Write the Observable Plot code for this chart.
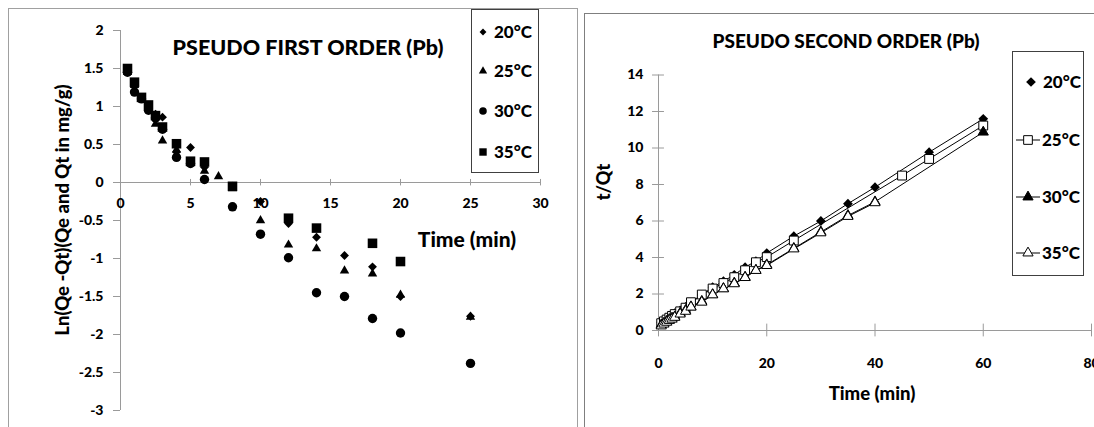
<!DOCTYPE html>
<html><head><meta charset="utf-8">
<script src="https://cdn.jsdelivr.net/npm/d3@7"></script>
<script src="https://cdn.jsdelivr.net/npm/@observablehq/plot@0.6"></script>
<style>
body{margin:0;background:#fff;font-family:Lato,"Open Sans",sans-serif;}
#wrap{position:relative;width:1094px;height:427px;overflow:hidden;background:#fff;}
.panel{position:absolute;box-sizing:border-box;}
.lbl{position:absolute;font-weight:900;color:#000;white-space:nowrap;transform:translate(-50%,-50%);line-height:1;}
.plotbox{position:absolute;top:0;}
.legend{position:absolute;box-sizing:border-box;border:1px solid #404040;background:#fff;}
</style></head><body><div id="wrap"></div>
<script>
// ---------- DATA: Pseudo first order (Pb) ----------
const pfoSeries = ["20°C","25°C","30°C","35°C"];
const pfoTicksX = [0,5,10,15,20,25,30];
const pfoTicksY = [-3,-2.5,-2,-1.5,-1,-0.5,0,0.5,1,1.5,2];
const pfoTime20 = [0.5,1,1.5,2,2.5,3,4,5,6,8,10,12,14,16,18,20,25];
const pfoLn20   = [1.48,1.3,1.12,1.0,0.9,0.86,0.4,0.46,0.2,-0.05,-0.25,-0.54,-0.72,-0.96,-1.11,-1.5,-1.76];
const pfoTime25 = [0.5,1,1.5,2,2.5,3,4,5,6,7,8,10,12,14,16,18,20,25];
const pfoLn25   = [1.45,1.28,1.1,0.98,0.77,0.55,0.43,0.25,0.15,0.08,-0.08,-0.5,-0.82,-0.87,-1.16,-1.2,-1.48,-1.77];
const pfoTime30 = [0.5,1,1.5,2,2.5,3,4,5,6,8,10,12,14,16,18,20,25];
const pfoLn30   = [1.45,1.19,1.1,0.95,0.85,0.7,0.33,0.25,0.04,-0.32,-0.68,-0.99,-1.45,-1.5,-1.79,-1.98,-2.38];
const pfoTime35 = [0.5,1,1.5,2,2.5,3,4,5,6,8,12,14,18,20];
const pfoLn35   = [1.5,1.32,1.12,1.02,0.88,0.73,0.51,0.28,0.27,-0.05,-0.47,-0.6,-0.8,-1.04];

// ---------- DATA: Pseudo second order (Pb) ----------
const psoSeries = ["20°C","25°C","30°C","35°C"];
const psoTicksX = [0,20,40,60,80];
const psoTicksY = [0,2,4,6,8,10,12,14];
const psoTime20 = [0.5,1,1.5,2,2.5,3,4,5,6,8,10,12,14,16,18,20,25,30,35,40,50,60];
const psoTQ20   = [0.45,0.55,0.65,0.75,0.85,0.95,1.1,1.3,1.5,1.95,2.37,2.7,3.05,3.47,3.8,4.24,5.17,6.0,6.95,7.85,9.77,11.6];
const psoTime25 = [0.5,1,1.5,2,2.5,3,4,5,6,8,10,12,14,16,18,20,25,45,50,60];
const psoTQ25   = [0.4,0.5,0.6,0.7,0.8,0.9,1.05,1.25,1.55,1.97,2.3,2.6,2.92,3.3,3.74,4.02,4.93,8.49,9.4,11.23];
const psoTime30 = [0.5,1,1.5,2,2.5,3,4,5,6,8,10,12,14,16,18,20,25,30,35,40,60];
const psoTQ30   = [0.3,0.4,0.5,0.6,0.68,0.75,0.95,1.1,1.3,1.6,1.97,2.3,2.6,2.92,3.3,3.6,4.5,5.4,6.3,7.05,10.87];
const psoTime35 = [0.5,1,1.5,2,2.5,3,4,5,6,8,10,12,14,16,18,20,25,30,35,40];
const psoTQ35   = [0.25,0.35,0.45,0.55,0.62,0.72,0.9,1.05,1.28,1.55,1.95,2.28,2.56,2.9,3.29,3.56,4.47,5.35,6.25,7.0];

// ---------- helpers ----------
const zip = (xs, ys) => xs.map((x, i) => ({x, y: ys[i]}));
const FONT = "Lato, 'Open Sans', sans-serif";
const AXIS = "#9a9a9a";
const symDiamond = d3.symbolDiamond2 || d3.symbolDiamond;
const wrap = document.getElementById("wrap");
function addDiv(cls, css, text) {
  const d = document.createElement("div");
  d.className = cls; d.style.cssText = css; if (text != null) d.textContent = text;
  wrap.appendChild(d); return d;
}
const baseStyle = {fontFamily: FONT, fontWeight: "900", fontSize: "14px", color: "black", background: "transparent", overflow: "visible"};
const fmt = d => String(d);

// panel borders
addDiv("panel", "left:8px;top:8px;width:570px;height:440px;border:1px solid #a0a0a0;");
addDiv("panel", "left:584px;top:13px;width:530px;height:440px;border:1px solid #7f7f7f;");

// ---------- LEFT CHART ----------
const left = Plot.plot({
  width: 580, height: 427,
  marginLeft: 120, marginRight: 40, marginTop: 30, marginBottom: 17,
  x: {domain: [0, 30], axis: null},
  y: {domain: [-3, 2]},
  style: baseStyle,
  marks: [
    Plot.ruleX([0], {y1: -3, y2: 2, stroke: AXIS}),
    Plot.ruleY([0], {x1: 0, x2: 30, stroke: AXIS}),
    Plot.ruleY(pfoTicksY, {y: d => d, x1: -0.5, x2: 0, stroke: AXIS}),
    Plot.ruleX(pfoTicksX, {x: d => d, y1: -0.045, y2: 0.04, stroke: AXIS}),
    Plot.axisY(pfoTicksY, {tickSize: 0, tickPadding: 17, tickFormat: fmt, fontSize: 14, fontWeight: "900", label: null}),
    Plot.text(pfoTicksX, {x: d => d, y: 0, dy: 21, text: fmt, fontSize: 14, fontWeight: "900"}),
    Plot.dot(zip(pfoTime20, pfoLn20), {x: "x", y: "y", symbol: symDiamond, r: 4, fill: "black", stroke: "none"}),
    Plot.dot(zip(pfoTime25, pfoLn25), {x: "x", y: "y", symbol: "triangle", r: 3.5, fill: "black", stroke: "none"}),
    Plot.dot(zip(pfoTime30, pfoLn30), {x: "x", y: "y", symbol: "circle", r: 4.7, fill: "black", stroke: "none"}),
    Plot.dot(zip(pfoTime35, pfoLn35), {x: "x", y: "y", symbol: "square", r: 5.4, fill: "black", stroke: "none"})
  ]
});
left.classList.add("plotbox"); left.style.left = "0px"; left.style.position = "absolute";
wrap.appendChild(left);

addDiv("lbl", "left:308px;top:48px;font-size:21.5px;", "PSEUDO FIRST ORDER (Pb)");
addDiv("lbl", "left:467px;top:238px;font-size:21px;", "Time (min)");
addDiv("lbl", "left:62px;top:210px;font-size:18.5px;transform:translate(-50%,-50%) rotate(-90deg);", "Ln(Qe -Qt)(Qe and Qt in mg/g)");

// ---------- RIGHT CHART ----------
const right = Plot.plot({
  width: 514, height: 427,
  marginLeft: 78, marginRight: 3, marginTop: 74.5, marginBottom: 97,
  x: {domain: [0, 80], axis: null},
  y: {domain: [0, 14]},
  style: baseStyle,
  marks: [
    Plot.ruleX([0], {y1: 0, y2: 14, stroke: AXIS}),
    Plot.ruleY([0], {x1: 0, x2: 80, stroke: AXIS}),
    Plot.ruleY(psoTicksY, {y: d => d, x1: -1.1, x2: 1.1, stroke: AXIS}),
    Plot.ruleX(psoTicksX, {x: d => d, y1: -0.35, y2: 0.35, stroke: AXIS}),
    Plot.axisY(psoTicksY, {tickSize: 0, tickPadding: 15, tickFormat: fmt, fontSize: 14, fontWeight: "900", label: null}),
    Plot.text(psoTicksX, {x: d => d, y: 0, dy: 33, text: fmt, fontSize: 14, fontWeight: "900"}),
    Plot.line(zip(psoTime20, psoTQ20), {x: "x", y: "y", stroke: "black", strokeWidth: 1}),
    Plot.line(zip(psoTime25, psoTQ25), {x: "x", y: "y", stroke: "black", strokeWidth: 1}),
    Plot.line(zip(psoTime30, psoTQ30), {x: "x", y: "y", stroke: "black", strokeWidth: 1}),
    Plot.line(zip(psoTime35, psoTQ35), {x: "x", y: "y", stroke: "black", strokeWidth: 1}),
    Plot.dot(zip(psoTime20, psoTQ20), {x: "x", y: "y", symbol: symDiamond, r: 4.4, fill: "black", stroke: "none"}),
    Plot.dot(zip(psoTime25, psoTQ25), {x: "x", y: "y", symbol: "square", r: 5, fill: "white", stroke: "black", strokeWidth: 1}),
    Plot.dot(zip(psoTime30, psoTQ30), {x: "x", y: "y", symbol: "triangle", r: 3.8, fill: "black", stroke: "black", strokeWidth: 1}),
    Plot.dot(zip(psoTime35, psoTQ35), {x: "x", y: "y", symbol: "triangle", r: 3.8, fill: "white", stroke: "black", strokeWidth: 1})
  ]
});
right.classList.add("plotbox"); right.style.left = "580px"; right.style.position = "absolute";
wrap.appendChild(right);

addDiv("lbl", "left:846px;top:40px;font-size:19px;", "PSEUDO SECOND ORDER (Pb)");
addDiv("lbl", "left:872px;top:393px;font-size:18.5px;", "Time (min)");
addDiv("lbl", "left:603px;top:182px;font-size:18px;transform:translate(-50%,-50%) rotate(-90deg);", "t/Qt");

// ---------- LEGENDS ----------
function legend(box, items) {
  const div = addDiv("legend", `left:${box.x}px;top:${box.y}px;width:${box.w}px;height:${box.h}px;`);
  const svg = d3.select(div).append("svg").attr("width", box.w).attr("height", box.h)
    .style("position", "absolute").style("left", "-1px").style("top", "-1px").style("overflow", "visible");
  items.forEach(it => {
    const cy = it.cy - box.y;
    if (it.line) svg.append("line").attr("x1", it.lx1 - box.x).attr("x2", it.lx2 - box.x)
      .attr("y1", cy).attr("y2", cy).attr("stroke", "black").attr("stroke-width", 1);
    svg.append("path").attr("d", d3.symbol(it.sym, it.size)())
      .attr("transform", `translate(${it.sx - box.x},${cy})`)
      .attr("fill", it.fill).attr("stroke", it.stroke || "none");
    svg.append("text").attr("x", it.tx - box.x).attr("y", cy).attr("dy", "0.36em")
      .attr("font-family", FONT).attr("font-weight", "900").attr("font-size", it.fs).text(it.label);
  });
}
const leftSyms = [symDiamond, d3.symbolTriangle, d3.symbolCircle, d3.symbolSquare];
const leftSizes = [30, 30, 45, 55];
const leftY = [32, 71, 111, 152];
legend({x: 471, y: 9, w: 68, h: 164}, pfoSeries.map((s, i) => ({
  label: s, sym: leftSyms[i], size: leftSizes[i], fill: "black", sx: 483, cy: leftY[i], tx: 494, fs: 17
})));
const rightSyms = [symDiamond, d3.symbolSquare, d3.symbolTriangle, d3.symbolTriangle];
const rightSizes = [60, 75, 45, 45];
const rightFill = ["black", "white", "black", "white"];
const rightY = [82, 140, 197, 253];
legend({x: 1012, y: 51, w: 72, h: 225}, psoSeries.map((s, i) => ({
  label: s, sym: rightSyms[i], size: rightSizes[i], fill: rightFill[i], stroke: i === 0 ? "none" : "black",
  sx: i === 0 ? 1031 : 1028, cy: rightY[i], tx: i === 0 ? 1043 : 1042, fs: 17,
  line: i > 0, lx1: 1016, lx2: 1040
})));
</script></body></html>
